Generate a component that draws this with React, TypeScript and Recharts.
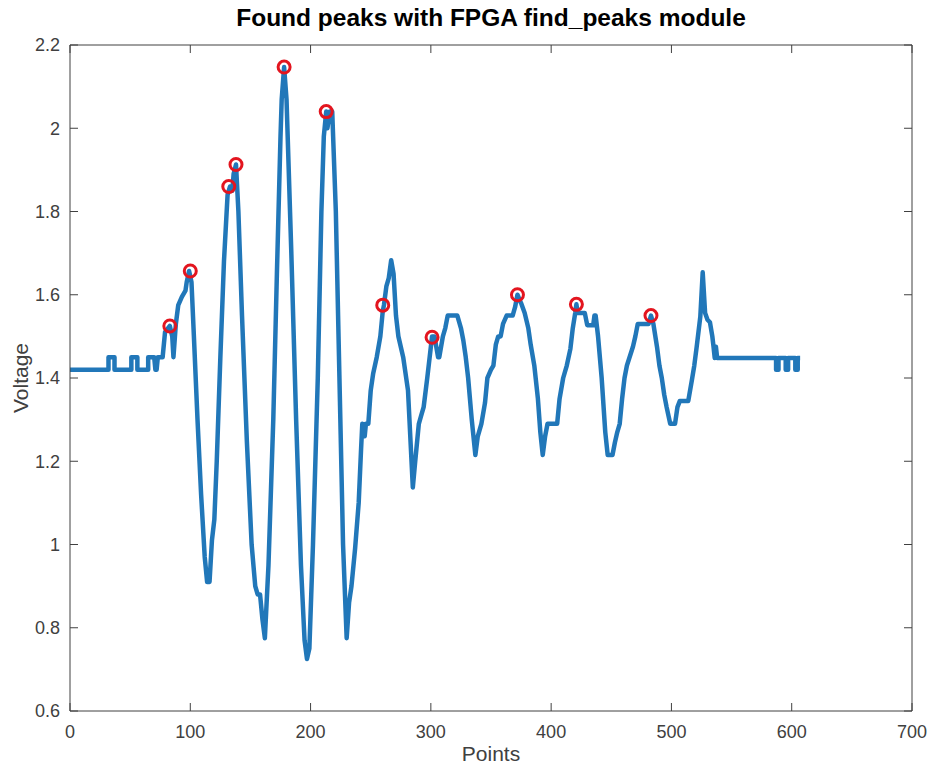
import React from "react";
import {
  ComposedChart,
  Line,
  Scatter,
  XAxis,
  YAxis,
} from "recharts";

// sample index of each vertex of the trace (repeated index = vertical step)
const pointIdx = [
  0, 32, 32, 37, 37, 51, 51, 56, 56, 65, 65, 70, 71, 72, 73, 77, 79, 83, 85, 86,
  88, 90, 93, 96, 97, 99, 101, 103, 106, 109, 112, 114, 116, 118, 120, 122, 125,
  128, 131, 133, 135, 136, 138, 140, 143, 147, 151, 154, 156, 158, 160, 162, 165,
  169, 172, 175, 176, 178, 180, 184, 188, 192, 195, 197, 199, 202, 206, 209, 211,
  213, 214, 216, 218, 221, 224, 227, 230, 232, 234, 237, 240, 242, 243, 245, 246,
  248, 250, 252, 255, 258, 260, 261, 263, 265, 267, 269, 271, 273, 277, 281, 285,
  287, 289, 290, 292, 294, 297, 299, 301, 303, 306, 307, 310, 312, 314, 322, 325,
  327, 329, 331, 334, 337, 339, 342, 345, 347, 350, 352, 354, 356, 358, 360, 363,
  368, 370, 372, 375, 378, 381, 383, 386, 389, 391, 393, 395, 397, 405, 407, 410,
  413, 416, 418, 420, 421, 422, 428, 430, 435, 436, 437, 439, 442, 445, 447, 451,
  453, 455, 457, 459, 461, 463, 465, 468, 470, 472, 481, 483, 485, 488, 490, 492,
  494, 496, 499, 503, 505, 507, 514, 517, 519, 521, 524, 526, 528, 530, 532, 534,
  535, 536, 537, 538, 587, 587, 589, 589, 595, 595, 597, 597, 603, 603, 605, 605,
  607,
];

const voltage = [
  1.42, 1.42, 1.45, 1.45, 1.42, 1.42, 1.45, 1.45, 1.42, 1.42, 1.45, 1.45, 1.42,
  1.42, 1.45, 1.45, 1.51, 1.525, 1.5, 1.45, 1.53, 1.575, 1.595, 1.61, 1.63, 1.657,
  1.63, 1.5, 1.3, 1.12, 0.97, 0.91, 0.91, 1.01, 1.06, 1.2, 1.45, 1.68, 1.84, 1.86,
  1.85, 1.89, 1.913, 1.8, 1.55, 1.25, 1.0, 0.9, 0.88, 0.88, 0.82, 0.775, 0.95, 1.3,
  1.65, 1.98, 2.07, 2.147, 2.07, 1.7, 1.3, 0.95, 0.77, 0.725, 0.75, 1.0, 1.4, 1.8,
  1.98, 2.04, 2.0, 2.04, 2.04, 1.8, 1.4, 1.0, 0.775, 0.86, 0.9, 0.99, 1.1, 1.23,
  1.29, 1.26, 1.29, 1.29, 1.37, 1.41, 1.45, 1.5, 1.56, 1.575, 1.62, 1.64, 1.683,
  1.65, 1.55, 1.5, 1.45, 1.37, 1.137, 1.2, 1.26, 1.29, 1.31, 1.33, 1.4, 1.45, 1.5,
  1.5, 1.45, 1.45, 1.5, 1.52, 1.55, 1.55, 1.52, 1.49, 1.45, 1.4, 1.3, 1.215, 1.26,
  1.29, 1.34, 1.4, 1.42, 1.43, 1.48, 1.5, 1.5, 1.53, 1.55, 1.55, 1.57, 1.6, 1.58,
  1.556, 1.52, 1.48, 1.43, 1.35, 1.27, 1.215, 1.26, 1.29, 1.29, 1.35, 1.4, 1.43,
  1.47, 1.52, 1.556, 1.577, 1.556, 1.556, 1.527, 1.527, 1.55, 1.55, 1.5, 1.4, 1.27,
  1.215, 1.215, 1.245, 1.27, 1.29, 1.35, 1.4, 1.43, 1.448, 1.475, 1.5, 1.53, 1.53,
  1.55, 1.53, 1.475, 1.43, 1.4, 1.36, 1.33, 1.29, 1.29, 1.33, 1.345, 1.345, 1.395,
  1.43, 1.475, 1.547, 1.654, 1.556, 1.54, 1.534, 1.5, 1.475, 1.448, 1.475, 1.448,
  1.448, 1.42, 1.42, 1.448, 1.448, 1.42, 1.42, 1.448, 1.448, 1.42, 1.42, 1.448,
  1.448,
];

// peaks reported by the find_peaks module
const peakIdx = [83, 100, 132, 138, 178, 213, 260, 301, 372, 421, 483];
const peakVoltage = [1.525, 1.657, 1.86, 1.913, 2.147, 2.04, 1.575, 1.498, 1.6, 1.577, 1.55];

const xTicks = [0, 100, 200, 300, 400, 500, 600, 700];
const yTicks = [0.6, 0.8, 1, 1.2, 1.4, 1.6, 1.8, 2, 2.2];

const trace = pointIdx.map((x, i) => ({ x, v: voltage[i] }));
const peaks = peakIdx.map((x, i) => ({ x, v: peakVoltage[i] }));

const FONT = "'Liberation Sans', Arial, Helvetica, sans-serif";
const AXIS = "#404040";
const tickStyle = { fontSize: 18, fill: AXIS, fontFamily: FONT };

const fmtY = (v: number) => String(Number(v.toFixed(1)));

const PeakMarker = (props: any) => (
  <circle cx={props.cx} cy={props.cy} r={6} fill="none" stroke="#e3151f" strokeWidth={3} />
);

export default function App() {
  return (
    <div style={{ position: "absolute", left: 0, top: 0, width: 931, height: 767, background: "#fff" }}>
      <div
        style={{
          position: "absolute",
          left: 191,
          top: 4,
          width: 600,
          textAlign: "center",
          fontFamily: FONT,
          fontWeight: "bold",
          fontSize: 24.5,
          lineHeight: "28px",
          color: "#000",
        }}
      >
        Found peaks with FPGA find_peaks module
      </div>
      <ComposedChart width={931} height={767} margin={{ top: 44, right: 18, bottom: 0, left: 0 }}>
        <XAxis
          dataKey="x"
          type="number"
          domain={[0, 700]}
          ticks={xTicks}
          allowDataOverflow
          height={56}
          stroke={AXIS}
          tick={tickStyle}
          tickSize={-8}
          tickMargin={22}
          label={{ value: "Points", position: "insideBottom", offset: 6, fill: AXIS, fontSize: 21, fontFamily: FONT }}
        />
        <YAxis
          type="number"
          domain={[0.6, 2.2]}
          ticks={yTicks}
          allowDataOverflow
          width={70}
          stroke={AXIS}
          tick={tickStyle}
          tickSize={-8}
          tickMargin={18}
          tickFormatter={fmtY}
          label={{
            value: "Voltage",
            angle: -90,
            position: "insideLeft",
            offset: 21,
            fill: AXIS,
            fontSize: 21,
            fontFamily: FONT,
            style: { textAnchor: "middle" },
          }}
        />
        <XAxis
          xAxisId="top"
          orientation="top"
          dataKey="x"
          type="number"
          domain={[0, 700]}
          ticks={xTicks}
          allowDataOverflow
          height={1}
          stroke={AXIS}
          tickSize={-8}
          tickFormatter={() => ""}
        />
        <YAxis
          yAxisId="right"
          orientation="right"
          type="number"
          domain={[0.6, 2.2]}
          ticks={yTicks}
          allowDataOverflow
          width={1}
          stroke={AXIS}
          tickSize={-8}
          tickFormatter={() => ""}
        />
        <Line
          xAxisId="top"
          yAxisId="right"
          data={trace}
          dataKey="v"
          stroke="none"
          dot={false}
          activeDot={false}
          isAnimationActive={false}
        />
        <Line
          data={trace}
          dataKey="v"
          type="linear"
          stroke="#2177b9"
          strokeWidth={4.5}
          dot={false}
          activeDot={false}
          strokeLinejoin="round"
          isAnimationActive={false}
        />
        <Scatter data={peaks} dataKey="v" shape={PeakMarker} isAnimationActive={false} />
      </ComposedChart>
    </div>
  );
}
